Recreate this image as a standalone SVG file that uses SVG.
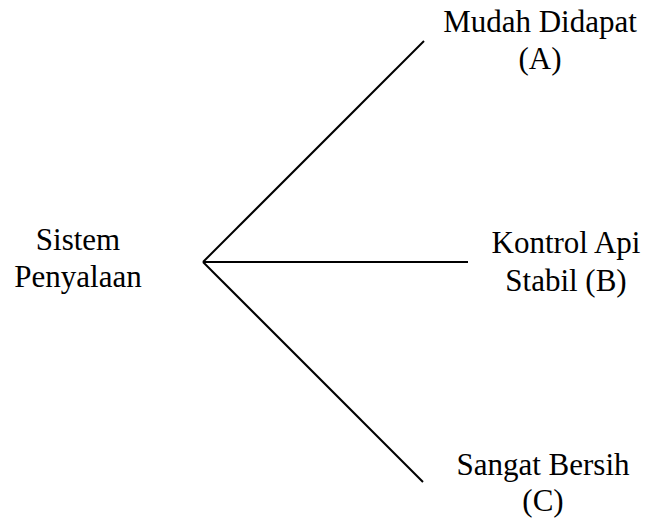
<svg xmlns="http://www.w3.org/2000/svg" width="645" height="520" viewBox="0 0 645 520">
  <rect width="645" height="520" fill="#fff"/>
  <!-- three branches fanning out from the root point -->
  <g id="connectors" stroke="#000" stroke-width="2" fill="none">
    <line x1="203" y1="262" x2="424" y2="41"/>
    <line x1="203" y1="262" x2="468" y2="262"/>
    <line x1="203" y1="262" x2="423" y2="482"/>
  </g>
  <g id="root">
    <text x="78" y="250" font-family="Liberation Serif, serif" font-size="31" text-anchor="middle">Sistem</text>
    <text x="78" y="287" font-family="Liberation Serif, serif" font-size="31" text-anchor="middle">Penyalaan</text>
  </g>
  <g id="nodeA">
    <text x="540" y="32" font-family="Liberation Serif, serif" font-size="31" text-anchor="middle">Mudah Didapat</text>
    <text x="540" y="69" font-family="Liberation Serif, serif" font-size="31" text-anchor="middle">(A)</text>
  </g>
  <g id="nodeB">
    <text x="566" y="253" font-family="Liberation Serif, serif" font-size="31" text-anchor="middle">Kontrol Api</text>
    <text x="566" y="291" font-family="Liberation Serif, serif" font-size="31" text-anchor="middle">Stabil (B)</text>
  </g>
  <g id="nodeC">
    <text x="543" y="475" font-family="Liberation Serif, serif" font-size="31" text-anchor="middle">Sangat Bersih</text>
    <text x="543" y="511" font-family="Liberation Serif, serif" font-size="31" text-anchor="middle">(C)</text>
  </g>
</svg>
